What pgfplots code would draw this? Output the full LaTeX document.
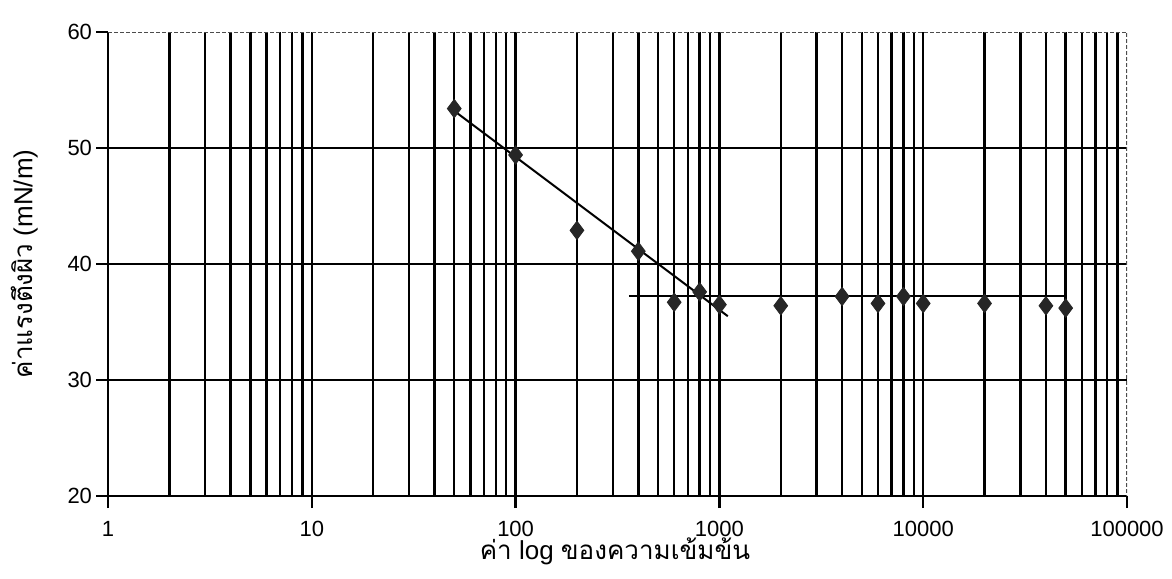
\documentclass[border=0pt]{standalone}
\usepackage{pgfplots}
\pgfplotsset{compat=1.18}
\usepackage{fontspec}
\setmainfont{Liberation Sans}
\newfontfamily\thaifont[Script=Thai]{Loma}
\begin{document}
\begin{tikzpicture}
\begin{axis}[
  at={(0,0)}, anchor=south west,
  scale only axis, width=509.5pt, height=232pt,
  xmode=log, xmin=1, xmax=100000, ymin=20, ymax=60,
  axis x line*=bottom, axis y line*=left,
  axis line style={black, line width=1.2pt},
  xtick={1,10,100,1000,10000},
  xticklabels={1,10,100,1000,10000},
  extra x ticks={100000}, extra x tick labels={100000},
  extra x tick style={grid=none},
  minor xtick={2,3,4,5,6,7,8,9,20,30,40,50,60,70,80,90,200,300,400,500,600,700,800,900,2000,3000,4000,5000,6000,7000,8000,9000,20000,30000,40000,50000,60000,70000,80000,90000},
  ytick={20,30,40,50},
  extra y ticks={60}, extra y tick style={grid=none},
  grid=both,
  major grid style={black, line width=1.2pt},
  minor grid style={black, line width=1.2pt},
  tick align=outside, major tick length=6pt, minor tick length=0pt,
  tick style={black, line width=1.2pt},
  /pgf/number format/assume math mode=true,
  ticklabel style={font=\fontsize{11}{13}\selectfont},
  xticklabel style={yshift=-3pt},
  yticklabel style={xshift=1.5pt},
  xlabel={{\thaifont ค่า} log {\thaifont ของความเข้มข้น}},
  ylabel={{\thaifont ค่าแรงตึงผิว} (mN/m)},
  label style={font=\fontsize{13}{15}\selectfont},
  xlabel style={at={(axis description cs:0.4975,-0.1185)}, anchor=center},
  ylabel style={at={(axis description cs:-0.082,0.5)}, anchor=center},
]
\addplot[black, line width=1pt] coordinates {(50,53.2) (1100,35.5)};
\addplot[black, line width=1pt] coordinates {(360,37.2) (50000,37.2)};
\addplot[only marks, mark=diamond*, mark size=4.6pt, color=black!85] coordinates {
 (50,53.4) (100,49.4) (200,42.9) (400,41.1) (600,36.7) (800,37.6) (1000,36.5)
 (2000,36.4) (4000,37.2) (6000,36.6) (8000,37.2) (10000,36.6) (20000,36.6)
 (40000,36.4) (50000,36.2)};
\draw[black!70, line width=0.7pt, dash pattern=on 2pt off 1pt]
  (rel axis cs:0,1) -- (rel axis cs:1,1) -- (rel axis cs:1,0);
\end{axis}
\pgfresetboundingbox
\path[use as bounding box] (-54pt,-41pt) rectangle (532pt,248pt);
\end{tikzpicture}
\end{document}
